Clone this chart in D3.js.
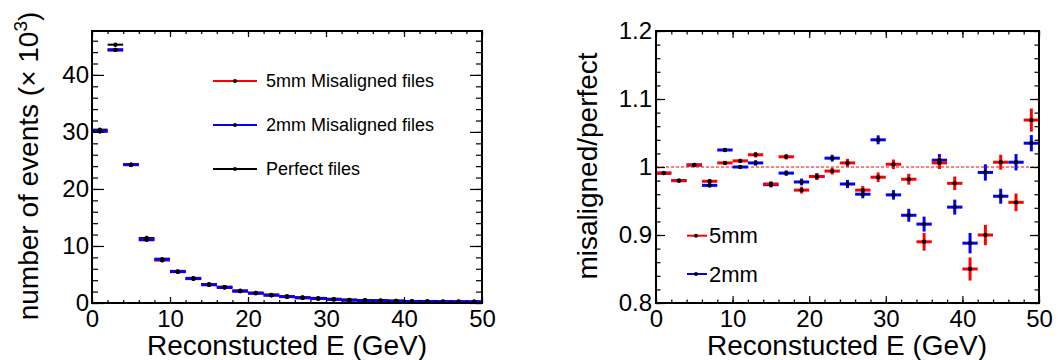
<!DOCTYPE html>
<html>
<head>
<meta charset="utf-8">
<script src="https://cdn.jsdelivr.net/npm/d3@7"></script>
<style>
  html, body { margin: 0; padding: 0; background: #fff; }
  svg text { font-family: "Liberation Sans", Arial, Helvetica, sans-serif; fill: #000; }
</style>
</head>
<body>
<svg id="chart" width="1060" height="360"></svg>
<script>
// Energy bins: 25 bins of 2 GeV between 0 and 50 GeV (bin centres)
const binCentres = [1, 3, 5, 7, 9, 11, 13, 15, 17, 19, 21, 23, 25, 27, 29, 31, 33, 35, 37, 39, 41, 43, 45, 47, 49];
const binHalfWidth = 1;

// Event counts per bin (x 10^3)
const perfectCounts = [30.4, 45.3, 24.2, 11.4, 7.5, 5.5, 4.25, 3.3, 2.75, 2.15, 1.75, 1.38, 1.14, 0.96, 0.78, 0.66, 0.54, 0.48, 0.42, 0.36, 0.30, 0.27, 0.24, 0.22, 0.20];
const mis5Counts    = [30.13, 44.39, 24.27, 11.16, 7.55, 5.55, 4.33, 3.22, 2.79, 2.08, 1.73, 1.37, 1.15, 0.93, 0.77, 0.66, 0.53, 0.43, 0.42, 0.35, 0.26, 0.24, 0.24, 0.21, 0.21];
const mis2Counts    = [30.13, 44.39, 24.27, 11.09, 7.69, 5.50, 4.28, 3.21, 2.73, 2.10, 1.73, 1.40, 1.11, 0.92, 0.81, 0.63, 0.50, 0.44, 0.42, 0.34, 0.27, 0.27, 0.23, 0.22, 0.21];

// Ratio misaligned / perfect with its uncertainty
const ratio5 = [0.991, 0.980, 1.003, 0.979, 1.006, 1.009, 1.018, 0.975, 1.015, 0.966, 0.986, 0.994, 1.006, 0.966, 0.985, 1.004, 0.982, 0.890, 1.006, 0.976, 0.850, 0.900, 1.007, 0.948, 1.069];
const ratio2 = [0.991, 0.980, 1.003, 0.973, 1.025, 1.000, 1.006, 0.974, 0.991, 0.978, 0.986, 1.013, 0.975, 0.960, 1.040, 0.959, 0.929, 0.916, 1.010, 0.941, 0.888, 0.992, 0.957, 1.007, 1.035];
const err5   = [0.002, 0.002, 0.002, 0.003, 0.003, 0.003, 0.004, 0.004, 0.004, 0.005, 0.005, 0.005, 0.006, 0.006, 0.007, 0.007, 0.008, 0.013, 0.009, 0.010, 0.017, 0.015, 0.011, 0.013, 0.017];
const err2   = [0.002, 0.002, 0.002, 0.003, 0.003, 0.003, 0.004, 0.004, 0.004, 0.005, 0.005, 0.005, 0.006, 0.006, 0.0066, 0.007, 0.0095, 0.011, 0.009, 0.011, 0.015, 0.012, 0.011, 0.012, 0.012];

// Axis ticks
const energyTicks      = [0, 10, 20, 30, 40, 50];
const energyMinorTicks = d3.range(0, 51, 2);
const countTicks       = [0, 10, 20, 30, 40];
const countMinorTicks  = d3.range(0, 48, 2);
const ratioTicks       = [0.8, 0.9, 1.0, 1.1, 1.2];
const ratioMinorTicks  = d3.range(80, 121, 2).map(v => v / 100);

const legendLeft  = ["5mm Misaligned files", "2mm Misaligned files", "Perfect files"];
const legendRight = ["5mm", "2mm"];

const RED = "#ff0000", BLUE = "#0000ff", BLACK = "#000000";

const svg = d3.select("#chart");
svg.append("rect").attr("width", 1060).attr("height", 360).attr("fill", "#fff");

// Frame with inward ticks on all four sides
function drawFrame(g, x, y, opt) {
  const [x0, x1] = x.range();
  const [y0, y1] = y.range(); // y0 bottom, y1 top
  const mk = (axis, tr, ticks, size, fmt, pad) => {
    const a = axis.tickValues(ticks).tickSize(-size).tickSizeOuter(0).tickPadding(pad).tickFormat(fmt);
    const gg = g.append("g").attr("transform", tr).call(a);
    gg.select(".domain").remove();
    gg.selectAll(".tick line").attr("stroke", "#000").attr("stroke-width", 1.2);
    return gg;
  };
  const none = () => "";
  // bottom
  mk(d3.axisBottom(x), `translate(0,${y0})`, energyMinorTicks, opt.xMinor, none, 0);
  const bx = mk(d3.axisBottom(x), `translate(0,${y0})`, energyTicks, opt.xMajor, d => d, opt.xPad);
  bx.selectAll("text").attr("font-size", 24);
  // top
  mk(d3.axisTop(x), `translate(0,${y1})`, energyMinorTicks, opt.xMinor, none, 0);
  mk(d3.axisTop(x), `translate(0,${y1})`, energyTicks, opt.xMajor, none, 0);
  // left
  mk(d3.axisLeft(y), `translate(${x0},0)`, opt.yMinorTicks, opt.yMinor, none, 0);
  const ly = mk(d3.axisLeft(y), `translate(${x0},0)`, opt.yTicks, opt.yMajor, opt.yFmt, opt.yPad);
  ly.selectAll("text").attr("font-size", 24);
  // right
  mk(d3.axisRight(y), `translate(${x1},0)`, opt.yMinorTicks, opt.yMinor, none, 0);
  mk(d3.axisRight(y), `translate(${x1},0)`, opt.yTicks, opt.yMajor, none, 0);

  g.append("rect")
    .attr("x", x0).attr("y", y1)
    .attr("width", x1 - x0).attr("height", y0 - y1)
    .attr("fill", "none").attr("stroke", "#000").attr("stroke-width", 2);
}

// ---------- Left panel: event counts ----------
const xL = d3.scaleLinear().domain([0, 50]).range([92, 482]);
const yL = d3.scaleLinear().domain([0, 47.7]).range([303, 31]);
const gL = svg.append("g");

function drawHistBars(g, x, y, values, color, width) {
  g.append("g").selectAll("line").data(values).join("line")
    .attr("x1", (d, i) => x(binCentres[i] - binHalfWidth))
    .attr("x2", (d, i) => x(binCentres[i] + binHalfWidth))
    .attr("y1", d => y(d)).attr("y2", d => y(d))
    .attr("stroke", color).attr("stroke-width", width);
}
function drawMarkers(g, x, y, values, r) {
  g.append("g").selectAll("circle").data(values).join("circle")
    .attr("cx", (d, i) => x(binCentres[i])).attr("cy", d => y(d))
    .attr("r", r).attr("fill", BLACK);
}

drawHistBars(gL, xL, yL, perfectCounts, BLACK, 2);
drawHistBars(gL, xL, yL, mis5Counts, RED, 3);
drawHistBars(gL, xL, yL, mis2Counts, BLUE, 3);
drawMarkers(gL, xL, yL, perfectCounts, 2.2);
drawMarkers(gL, xL, yL, mis5Counts, 2.2);
drawMarkers(gL, xL, yL, mis2Counts, 2.2);

drawFrame(gL, xL, yL, {
  xMajor: 6, xMinor: 3, xPad: 7,
  yMajor: 12, yMinor: 6, yPad: 3,
  yTicks: countTicks, yMinorTicks: countMinorTicks, yFmt: d => d
});

// Legend (left)
const legColors = [RED, BLUE, BLACK];
const legL = gL.append("g");
legendLeft.forEach((t, i) => {
  const yy = 81 + i * 44;
  legL.append("line").attr("x1", 213).attr("x2", 257).attr("y1", yy).attr("y2", yy)
    .attr("stroke", legColors[i]).attr("stroke-width", 2);
  legL.append("circle").attr("cx", 235).attr("cy", yy).attr("r", 2).attr("fill", BLACK);
  legL.append("text").attr("x", 266).attr("y", yy).attr("dy", "0.35em")
    .attr("font-size", 18).text(t);
});

// Axis titles (left)
gL.append("text").attr("x", 287).attr("y", 355).attr("text-anchor", "middle")
  .attr("font-size", 28).text("Reconstucted E (GeV)");
const yt = gL.append("text").attr("transform", "translate(38,166) rotate(-90)")
  .attr("text-anchor", "middle").attr("font-size", 28);
yt.append("tspan").text("number of events (\u00d7 10");
yt.append("tspan").attr("font-size", 19).attr("dy", -11).text("3");
yt.append("tspan").attr("dy", 11).text(")");

// ---------- Right panel: ratio ----------
const xR = d3.scaleLinear().domain([0, 50]).range([656, 1039]);
const yR = d3.scaleLinear().domain([0.8, 1.2]).range([303, 31]);
const gR = svg.append("g");

gR.append("line")
  .attr("x1", xR(0)).attr("x2", xR(50)).attr("y1", yR(1)).attr("y2", yR(1))
  .attr("stroke", RED).attr("stroke-width", 1).attr("stroke-dasharray", "3,2");

function drawRatio(g, values, errs, color) {
  const gg = g.append("g");
  gg.selectAll("line.h").data(values).join("line").attr("class", "h")
    .attr("x1", (d, i) => xR(binCentres[i] - binHalfWidth))
    .attr("x2", (d, i) => xR(binCentres[i] + binHalfWidth))
    .attr("y1", d => yR(d)).attr("y2", d => yR(d))
    .attr("stroke", color).attr("stroke-width", 3);
  gg.selectAll("line.v").data(values).join("line").attr("class", "v")
    .attr("x1", (d, i) => xR(binCentres[i])).attr("x2", (d, i) => xR(binCentres[i]))
    .attr("y1", (d, i) => yR(d - errs[i])).attr("y2", (d, i) => yR(d + errs[i]))
    .attr("stroke", color).attr("stroke-width", 3);
}
drawRatio(gR, ratio2, err2, BLUE);
drawRatio(gR, ratio5, err5, RED);
gR.append("g").selectAll("circle").data(ratio2).join("circle")
  .attr("cx", (d, i) => xR(binCentres[i])).attr("cy", d => yR(d)).attr("r", 2.2).attr("fill", BLACK);
gR.append("g").selectAll("circle").data(ratio5).join("circle")
  .attr("cx", (d, i) => xR(binCentres[i])).attr("cy", d => yR(d)).attr("r", 2.2).attr("fill", BLACK);

drawFrame(gR, xR, yR, {
  xMajor: 7, xMinor: 3.5, xPad: 7,
  yMajor: 9, yMinor: 4.5, yPad: 4,
  yTicks: ratioTicks, yMinorTicks: ratioMinorTicks,
  yFmt: d => (Math.abs(d - 1) < 1e-9 ? "1" : d3.format(".1f")(d))
});

// Legend (right)
const legR = gR.append("g");
legendRight.forEach((t, i) => {
  const yy = 235.7 + i * 38.3;
  legR.append("line").attr("x1", 687).attr("x2", 707).attr("y1", yy).attr("y2", yy)
    .attr("stroke", [RED, BLUE][i]).attr("stroke-width", 2);
  legR.append("circle").attr("cx", 696).attr("cy", yy).attr("r", 2).attr("fill", BLACK);
  legR.append("text").attr("x", 709).attr("y", yy).attr("dy", "0.35em")
    .attr("font-size", 22).text(t);
});

// Axis titles (right)
gR.append("text").attr("x", 847).attr("y", 355).attr("text-anchor", "middle")
  .attr("font-size", 28).text("Reconstucted E (GeV)");
gR.append("text").attr("transform", "translate(597,166) rotate(-90)")
  .attr("text-anchor", "middle").attr("font-size", 28).text("misaligned/perfect");
</script>
</body>
</html>
